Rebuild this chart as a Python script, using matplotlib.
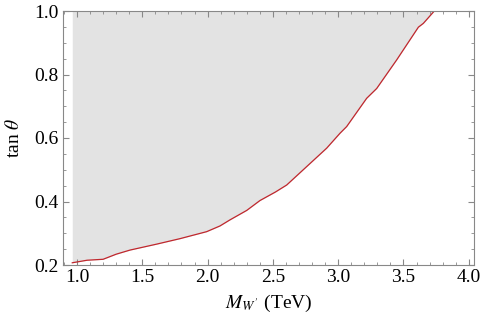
import numpy as np
import matplotlib.pyplot as plt
from matplotlib.ticker import MultipleLocator

plt.rcParams['font.family'] = ['Liberation Serif', 'DejaVu Serif']
plt.rcParams['mathtext.fontset'] = 'stix'

# exclusion boundary
m_w = [0.964, 1.077, 1.20, 1.30, 1.406, 1.613, 1.789, 1.993, 2.095, 2.171, 2.30,
       2.401, 2.52, 2.606, 2.759, 2.912, 3.014, 3.065, 3.218, 3.295, 3.448,
       3.614, 3.652, 3.736]
tan_theta = [0.207, 0.215, 0.218, 0.234, 0.247, 0.266, 0.283, 0.305, 0.323, 0.342, 0.372,
             0.403, 0.430, 0.452, 0.510, 0.568, 0.615, 0.636, 0.725, 0.756, 0.846,
             0.949, 0.961, 1.0]

fig = plt.figure(figsize=(4.85, 3.23), dpi=100)
ax = fig.add_axes([63 / 485, 58 / 323, 411 / 485, 254 / 323])

ax.fill_between(m_w, tan_theta, 1.0, color='#e3e3e3', lw=0)
ax.plot(m_w, tan_theta, color='#c0272d', lw=0.9)

ax.set_xlim(0.893, 4.04)
ax.set_ylim(0.2, 1.0)
ax.xaxis.set_major_locator(MultipleLocator(0.5))
ax.xaxis.set_minor_locator(MultipleLocator(0.1))
ax.yaxis.set_major_locator(MultipleLocator(0.2))
ax.yaxis.set_minor_locator(MultipleLocator(0.05))
ax.tick_params(which='both', direction='in', top=True, right=True,
               color='#888888', labelsize=14, pad=3)
ax.tick_params(which='major', length=4.5, width=0.8)
ax.tick_params(which='minor', length=2.5, width=0.6)
for s in ax.spines.values():
    s.set_color('#888888')
    s.set_linewidth(0.8)

ax.set_xlabel(r"$M_{W'}$ (TeV)", fontsize=14, labelpad=5)
ax.set_ylabel(r"tan $\theta$", fontsize=14, labelpad=8)

fig.savefig('out.png', dpi=100)
